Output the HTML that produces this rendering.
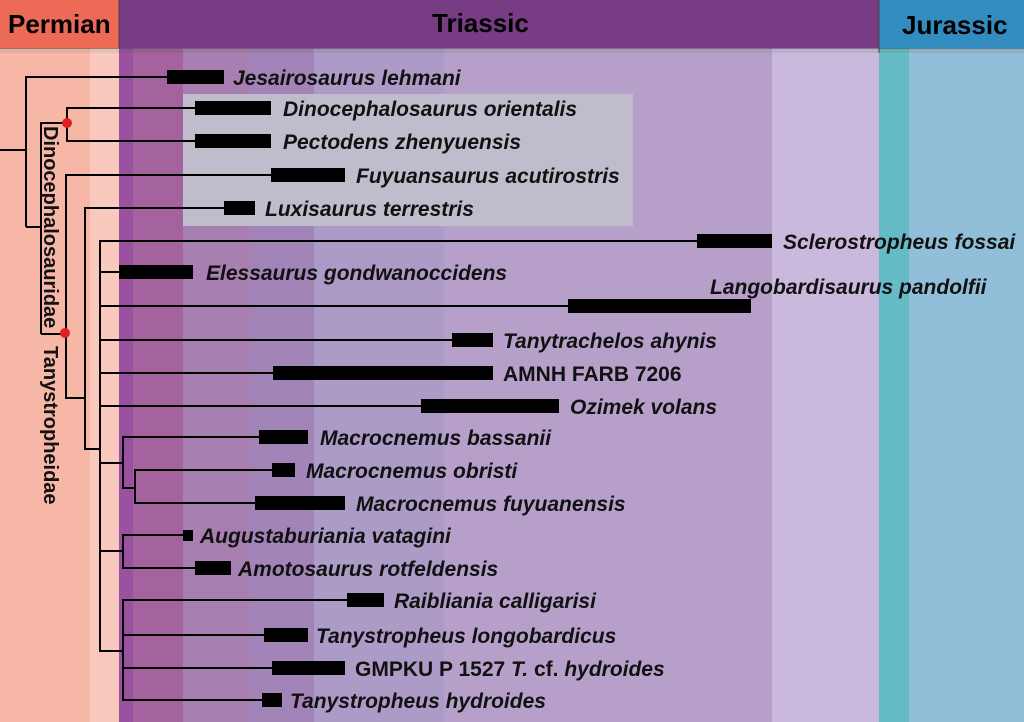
<!DOCTYPE html><html><head><style>body{margin:0}svg{display:block}text{font-family:"Liberation Sans",sans-serif;font-weight:bold;font-size:21px}.i{font-style:italic}</style></head><body>
<svg width="1024" height="722" xmlns="http://www.w3.org/2000/svg">
<rect x="0" y="0" width="1024" height="722" fill="#f6b7a6"/>
<rect x="90" y="48" width="29" height="674" fill="#f8c9bc"/>
<rect x="119" y="48" width="14" height="674" fill="#9a52a0"/>
<rect x="133" y="48" width="50" height="674" fill="#a4629e"/>
<rect x="183" y="48" width="67" height="674" fill="#a77fb0"/>
<rect x="250" y="48" width="64" height="674" fill="#a384b8"/>
<rect x="314" y="48" width="130" height="674" fill="#ab9bc6"/>
<rect x="444" y="48" width="328" height="674" fill="#b6a0ca"/>
<rect x="772" y="48" width="107" height="674" fill="#c9b9dc"/>
<rect x="879" y="48" width="30" height="674" fill="#66bcc6"/>
<rect x="909" y="48" width="115" height="674" fill="#91bed8"/>
<rect x="183" y="94" width="450" height="132" fill="#c0bccc"/>
<rect x="0" y="0" width="119" height="48" fill="#ec6a56"/>
<rect x="119" y="0" width="760" height="48" fill="#773c84"/>
<rect x="879" y="0" width="145" height="48" fill="#338cc0"/>
<rect x="0" y="48" width="1024" height="5" fill="#000" opacity="0.06"/>
<line x1="0" y1="48.5" x2="1024" y2="48.5" stroke="#555" stroke-width="1" opacity="0.6"/>
<line x1="119" y1="0" x2="119" y2="48" stroke="#444" stroke-width="1"/>
<line x1="879" y1="0" x2="879" y2="53" stroke="#444" stroke-width="1"/>
<text x="8" y="33" style="font-size:26px">Permian</text>
<text x="432" y="32" style="font-size:26px">Triassic</text>
<text x="902" y="34" style="font-size:26px">Jurassic</text>
<g stroke="#000" stroke-width="2" fill="none">
<path d="M0 150H26M26 76V227M26 77H167M26 227H41M41 122V334M41 123H67M67 107V142M67 108H195M67 141H195M41 334H66M66 174V399M66 175H271M66 398H85M85 207V450M85 208H224M85 449H100M100 240V652M100 241H697M100 272H119M100 306H568M100 340H452M100 373H273M100 406H421M100 463H123M123 436V489M123 437H259M123 488H135M135 469V504M135 470H272M135 503H255M100 551H123M123 534V569M123 535H183M123 568H195M100 651H123M123 599V701M123 600H347M123 635H264M123 668H272M123 700H262"/>
</g>
<circle cx="67" cy="123" r="5" fill="#e02020"/>
<circle cx="65" cy="333" r="5" fill="#e02020"/>
<g fill="#000">
<rect x="167" y="70" width="57" height="14"/>
<rect x="195" y="101" width="76" height="14"/>
<rect x="195" y="134" width="76" height="14"/>
<rect x="271" y="168" width="74" height="14"/>
<rect x="224" y="201" width="31" height="14"/>
<rect x="697" y="234" width="75" height="14"/>
<rect x="119" y="265" width="74" height="14"/>
<rect x="568" y="299" width="183" height="14"/>
<rect x="452" y="333" width="41" height="14"/>
<rect x="273" y="366" width="220" height="14"/>
<rect x="421" y="399" width="138" height="14"/>
<rect x="259" y="430" width="49" height="14"/>
<rect x="272" y="463" width="23" height="14"/>
<rect x="255" y="496" width="90" height="14"/>
<rect x="183" y="530" width="10" height="11"/>
<rect x="195" y="561" width="36" height="14"/>
<rect x="347" y="593" width="37" height="14"/>
<rect x="264" y="628" width="44" height="14"/>
<rect x="272" y="661" width="73" height="14"/>
<rect x="262" y="693" width="20" height="14"/>
</g>
<g fill="#111">
<text class="i" x="233" y="85">Jesairosaurus lehmani</text>
<text class="i" x="283" y="116">Dinocephalosaurus orientalis</text>
<text class="i" x="283" y="149">Pectodens zhenyuensis</text>
<text class="i" x="356" y="183">Fuyuansaurus acutirostris</text>
<text class="i" x="265" y="216">Luxisaurus terrestris</text>
<text class="i" x="783" y="249">Sclerostropheus fossai</text>
<text class="i" x="206" y="280">Elessaurus gondwanoccidens</text>
<text class="i" x="710" y="294">Langobardisaurus pandolfii</text>
<text class="i" x="503" y="348">Tanytrachelos ahynis</text>
<text x="503" y="381">AMNH FARB 7206</text>
<text class="i" x="570" y="414">Ozimek volans</text>
<text class="i" x="320" y="445">Macrocnemus bassanii</text>
<text class="i" x="306" y="478">Macrocnemus obristi</text>
<text class="i" x="356" y="511">Macrocnemus fuyuanensis</text>
<text class="i" x="200" y="543">Augustaburiania vatagini</text>
<text class="i" x="238" y="576">Amotosaurus rotfeldensis</text>
<text class="i" x="394" y="608">Raibliania calligarisi</text>
<text class="i" x="316" y="643">Tanystropheus longobardicus</text>
<text x="355" y="676">GMPKU P 1527 <tspan font-style="italic">T.</tspan> cf. <tspan font-style="italic">hydroides</tspan></text>
<text class="i" x="290" y="708">Tanystropheus hydroides</text>
<text transform="translate(44,126) rotate(90)" style="font-size:20px">Dinocephalosauridae</text>
<text transform="translate(44,346) rotate(90)" style="font-size:20px">Tanystropheidae</text>
</g>
</svg></body></html>
